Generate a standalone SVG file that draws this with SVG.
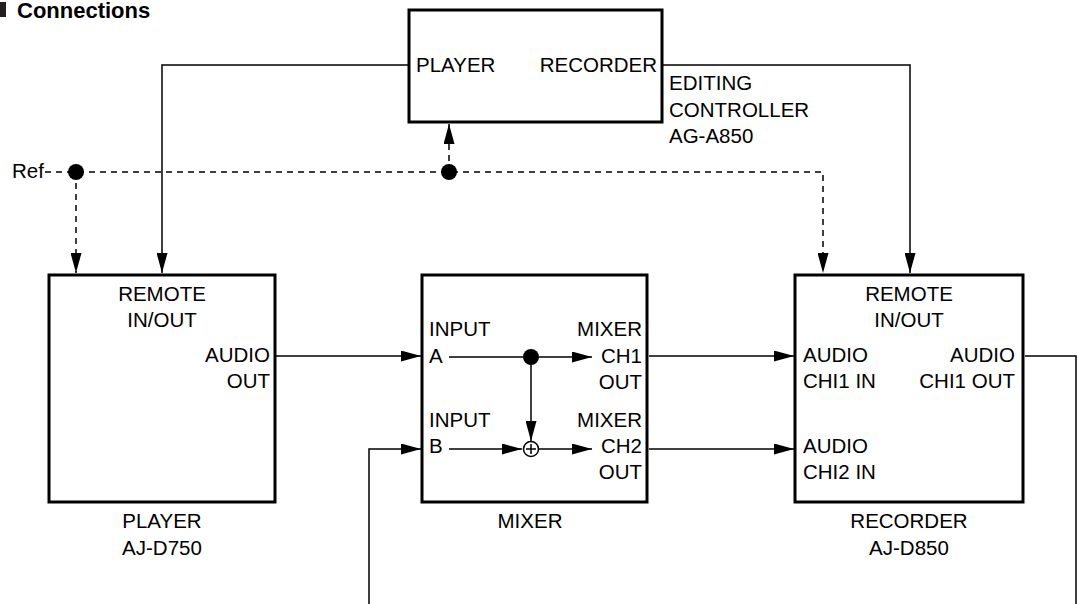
<svg xmlns="http://www.w3.org/2000/svg" width="1078" height="604" viewBox="0 0 1078 604">
<style>
text{font-family:"Liberation Sans",Arial,sans-serif;font-size:20.5px;fill:#000}
.t{font-size:22px;font-weight:bold}
.m{text-anchor:middle}
.e{text-anchor:end}
.box{fill:#fff;stroke:#000;stroke-width:3}
.c{fill:none;stroke:#000;stroke-width:1.5}
.d{stroke-dasharray:6 5}
.a{marker-end:url(#ah)}
</style>
<defs>
<marker id="ah" viewBox="0 0 20 11" refX="20" refY="5.5" markerWidth="20" markerHeight="11" markerUnits="userSpaceOnUse" orient="auto">
<path d="M0,0 L20,5.5 L0,11 Z" fill="#000"/>
</marker>
</defs>
<rect width="1078" height="604" fill="#fff"/>
<g id="title">
<rect x="0" y="2" width="6" height="15" fill="#231f20"/>
<text class="t" x="17" y="18">Connections</text>
</g>
<g id="connectors">
<path class="c a" d="M409,65 H162 V273"/>
<path class="c a" d="M663,65 H910 V273"/>
<path class="c d a" d="M45,172 H823 V273"/>
<path class="c d a" d="M76,172 V273"/>
<path class="c d a" d="M449,172 V124"/>
<circle cx="76" cy="172" r="8" fill="#000"/>
<circle cx="449" cy="172" r="8" fill="#000"/>
<path class="c a" d="M276,356 H421"/>
<path class="c a" d="M649,356 H794"/>
<path class="c a" d="M649,449 H794"/>
<path class="c" d="M1025,356 H1076 V604"/>
<path class="c a" d="M369,604 V449 H421"/>
</g>
<g id="controller">
<rect class="box" x="409" y="10" width="253" height="112"/>
<text x="416" y="72">PLAYER</text>
<text class="e" x="657" y="72">RECORDER</text>
<text x="669" y="90">EDITING</text>
<text x="669" y="117">CONTROLLER</text>
<text x="669" y="143">AG-A850</text>
</g>
<g id="ref">
<text x="12" y="178">Ref</text>
</g>
<g id="player">
<rect class="box" x="49" y="275" width="226" height="227"/>
<text class="m" x="162" y="301">REMOTE</text>
<text class="m" x="162" y="327">IN/OUT</text>
<text class="e" x="270" y="362">AUDIO</text>
<text class="e" x="270" y="388">OUT</text>
<text class="m" x="162" y="528">PLAYER</text>
<text class="m" x="162" y="555">AJ-D750</text>
</g>
<g id="mixer">
<rect class="box" x="422" y="275" width="225" height="227"/>
<text x="429" y="336">INPUT</text>
<text x="429" y="363">A</text>
<text x="429" y="427">INPUT</text>
<text x="429" y="453">B</text>
<text class="e" x="642" y="336">MIXER</text>
<text class="e" x="642" y="363">CH1</text>
<text class="e" x="642" y="389">OUT</text>
<text class="e" x="642" y="427">MIXER</text>
<text class="e" x="642" y="453">CH2</text>
<text class="e" x="642" y="479">OUT</text>
<path class="c" d="M449,357 H531"/>
<path class="c a" d="M531,357 H592"/>
<path class="c a" d="M531,357 V441"/>
<circle cx="531" cy="357" r="8" fill="#000"/>
<path class="c a" d="M449,449 H522"/>
<path class="c a" d="M539,449 H592"/>
<circle cx="531" cy="449" r="7.5" fill="#fff" stroke="#000" stroke-width="1.5"/>
<path class="c" d="M526,449 H536 M531,444 V454"/>
<text class="m" x="530" y="528">MIXER</text>
</g>
<g id="recorder">
<rect class="box" x="795" y="275" width="228" height="227"/>
<text class="m" x="909" y="301">REMOTE</text>
<text class="m" x="909" y="327">IN/OUT</text>
<text x="803" y="362">AUDIO</text>
<text x="803" y="388">CHI1 IN</text>
<text class="e" x="1015" y="362">AUDIO</text>
<text class="e" x="1015" y="388">CHI1 OUT</text>
<text x="803" y="453">AUDIO</text>
<text x="803" y="479">CHI2 IN</text>
<text class="m" x="909" y="528">RECORDER</text>
<text class="m" x="909" y="555">AJ-D850</text>
</g>
</svg>
